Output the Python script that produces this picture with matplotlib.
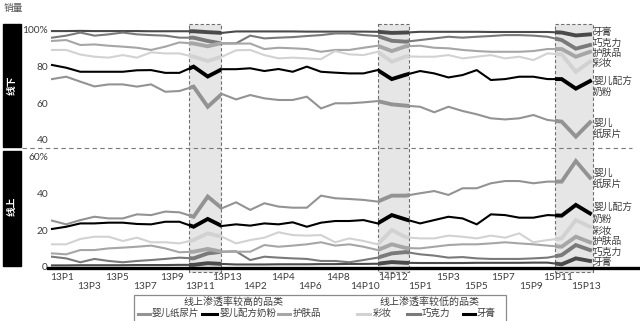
import matplotlib
matplotlib.use("Agg")
import matplotlib.pyplot as plt
from matplotlib.patches import Rectangle
from matplotlib import transforms
import numpy as np

plt.rcParams['font.family'] = ['Noto Sans CJK SC', 'DejaVu Sans']

# ---------------- data ----------------
periods = [f"{y}P{p}" for y in (13, 14, 15) for p in range(1, 14)]

names = ['婴儿纸尿片', '婴儿配方奶粉', '护肤品', '彩妆', '巧克力', '牙膏']

# 线下 (offline share, %)
diaper_off = [73.6, 74.9, 72.2, 69.6, 70.7, 70.7, 69.5, 70.7, 66.7, 67.1, 69.5, 58.5, 65.5,
              62.5, 64.9, 63.1, 62.2, 62.2, 64.0, 57.6, 60.4, 60.4, 60.9, 61.6, 59.8, 59.1,
              58.5, 55.5, 58.5, 56.2, 54.4, 52.2, 51.6, 52.2, 54.0, 51.3, 50.4, 42.2, 50.0]
formula_off = [81.3, 79.8, 77.6, 77.6, 77.6, 77.6, 78.4, 78.5, 77.0, 77.0, 80.4, 75.0, 79.0,
               79.0, 79.5, 78.0, 79.1, 77.6, 80.4, 77.6, 77.1, 76.7, 76.7, 78.5, 73.6, 76.0,
               78.0, 76.7, 74.5, 75.8, 78.5, 73.1, 73.6, 74.9, 74.9, 73.6, 73.6, 68.4, 72.5]
skincare_off = [94.4, 94.9, 92.2, 92.5, 91.8, 91.3, 90.7, 89.5, 91.3, 93.6, 93.0, 91.5, 93.3,
                93.0, 93.0, 90.0, 90.7, 90.4, 90.0, 88.5, 89.5, 89.5, 90.7, 91.8, 88.9, 91.5,
                91.8, 90.7, 90.4, 89.5, 88.9, 88.5, 88.5, 88.5, 88.9, 90.0, 90.0, 85.8, 88.5]
cosmetics_off = [89.5, 89.5, 87.0, 85.8, 85.3, 86.7, 85.3, 88.2, 87.6, 87.6, 85.8, 83.5, 85.8,
                 89.3, 89.5, 86.7, 84.9, 85.3, 84.9, 84.5, 88.9, 87.1, 86.7, 88.5, 83.1, 86.0,
                 85.8, 85.8, 86.7, 84.9, 85.8, 86.7, 84.9, 85.8, 84.0, 87.6, 87.1, 77.6, 83.1]
choc_off = [96.2, 97.3, 99.0, 97.3, 98.0, 99.0, 98.0, 97.6, 97.3, 96.2, 96.2, 94.4, 93.0,
            93.1, 97.3, 95.8, 96.2, 96.5, 97.1, 97.6, 98.5, 98.5, 97.6, 97.1, 94.5, 94.0,
            94.9, 95.8, 96.7, 96.2, 96.7, 97.1, 97.6, 97.6, 97.3, 96.7, 94.9, 90.2, 92.2]
tooth_off = [99.8, 99.8, 99.9, 99.8, 99.8, 99.8, 99.8, 99.7, 99.7, 99.7, 99.7, 99.2, 98.8,
             99.6, 99.6, 99.6, 99.6, 99.6, 99.5, 99.5, 99.5, 99.5, 99.5, 99.4, 98.8, 99.0,
             99.4, 99.4, 99.4, 99.4, 99.4, 99.3, 99.3, 99.3, 99.3, 99.3, 99.0, 97.4, 98.0]

# 线上 (online share, %)
diaper_on = [25.6, 23.6, 25.9, 27.7, 26.8, 26.8, 29.0, 28.6, 30.5, 30.1, 27.7, 38.6, 32.3,
             35.5, 31.4, 35.0, 33.2, 32.6, 32.6, 39.1, 37.7, 37.3, 36.8, 35.9, 39.1, 39.1,
             40.4, 41.6, 39.5, 43.1, 43.1, 45.8, 47.0, 47.0, 45.8, 46.7, 46.7, 57.8, 48.8]
formula_on = [21.1, 22.3, 24.1, 24.1, 24.5, 24.5, 23.8, 23.6, 25.0, 25.0, 22.3, 26.5, 22.7,
              23.6, 22.9, 24.1, 23.6, 24.7, 22.3, 24.5, 25.4, 25.4, 25.9, 24.1, 28.6, 26.2,
              24.1, 25.9, 27.7, 26.8, 23.6, 29.0, 28.6, 27.2, 27.2, 28.6, 28.3, 34.1, 29.5]
skincare_on = [7.9, 7.4, 9.7, 9.7, 10.6, 11.0, 11.5, 12.1, 10.6, 8.5, 8.8, 10.3, 8.8,
               8.8, 8.8, 12.4, 11.5, 12.1, 12.8, 13.9, 12.1, 12.8, 11.5, 9.7, 12.8, 10.8,
               10.6, 11.5, 12.4, 12.8, 12.8, 13.3, 13.9, 13.3, 12.8, 12.1, 11.5, 16.9, 13.9]
cosmetics_on = [12.8, 12.8, 15.7, 16.9, 16.9, 14.6, 16.4, 13.9, 13.9, 13.3, 15.1, 18.7, 16.9,
                13.3, 15.1, 16.4, 19.3, 17.8, 17.5, 17.8, 13.9, 16.0, 14.6, 12.8, 20.5, 16.6,
                16.0, 16.0, 17.5, 16.9, 16.0, 17.5, 16.4, 18.7, 13.9, 15.1, 16.0, 25.9, 22.3]
choc_on = [6.1, 5.2, 3.1, 4.9, 3.8, 3.1, 3.8, 4.3, 4.9, 5.6, 5.2, 7.9, 8.8,
           9.0, 4.3, 6.1, 5.6, 5.2, 4.9, 3.8, 3.8, 3.1, 4.3, 5.6, 7.9, 8.6,
           7.4, 6.7, 5.6, 5.9, 5.2, 4.9, 4.9, 4.9, 5.2, 5.6, 7.0, 12.4, 9.7]
tooth_on = [1.4, 1.4, 1.5, 1.5, 1.5, 1.5, 1.6, 1.6, 1.6, 1.7, 1.7, 2.6, 2.2,
            1.9, 1.9, 1.9, 2.0, 2.0, 2.0, 2.1, 2.1, 2.2, 2.2, 2.3, 3.2, 2.8,
            2.7, 2.7, 2.7, 2.7, 2.8, 2.8, 2.8, 2.8, 2.9, 2.9, 2.0, 5.2, 3.8]

# highlighted periods (shaded spans, in period-index units)
shades = [(9.7, 11.95), (23.0, 25.2), (35.5, 38.2)]

# ---------------- style ----------------
colors = {'婴儿纸尿片': '#939393', '婴儿配方奶粉': '#000000', '护肤品': '#a6a6a6',
          '彩妆': '#d2d2d2', '巧克力': '#7a7a7a', '牙膏': '#4a4a4a'}
txtc = '#3c3c3c'
W, H = 640, 321
fig = plt.figure(figsize=(6.4, 3.21), dpi=100)

ov = fig.add_axes([0, 0, 1, 1])
ov.set_xlim(0, W)
ov.set_ylim(H, 0)
ov.axis('off')

px0, pstep = 52.0, 14.158
xl = (-(px0 - 40) / pstep, 38 + (640 - 590) / pstep)

axT = fig.add_axes([40 / W, 1 - 150 / H, 600 / W, 126 / H])
axB = fig.add_axes([40 / W, 1 - 272 / H, 600 / W, 122 / H])
axT.set_ylim(100 - (150 - 30.7) / 1.833, 100 + (30.7 - 24) / 1.833)
axB.set_ylim((268 - 272) / 1.85, (268 - 150) / 1.85)
for a in (axT, axB):
    a.set_xlim(*xl)
    a.axis('off')
    a.patch.set_alpha(0)

x = np.arange(len(periods))

# shaded highlight boxes spanning both panels
blend = transforms.blended_transform_factory(axT.transData, ov.transData)
for s0, s1 in shades:
    ov.add_patch(Rectangle((s0, 24), s1 - s0, 248, transform=blend,
                           facecolor='#e6e6e6', edgecolor='#6e6e6e',
                           linestyle=(0, (3, 2)), linewidth=0.8))

top_series = [('牙膏', tooth_off), ('巧克力', choc_off), ('护肤品', skincare_off),
              ('彩妆', cosmetics_off), ('婴儿纸尿片', diaper_off), ('婴儿配方奶粉', formula_off)]
bot_series = [('牙膏', tooth_on), ('巧克力', choc_on), ('护肤品', skincare_on),
              ('彩妆', cosmetics_on), ('婴儿纸尿片', diaper_on), ('婴儿配方奶粉', formula_on)]

for ax, series in ((axT, top_series), (axB, bot_series)):
    for name, vals in series:
        ax.plot(x, vals, color=colors[name], lw=1.5, solid_joinstyle='miter')
        for s0, s1 in shades:
            ln, = ax.plot(x, vals, color=colors[name], lw=2.8, solid_joinstyle='miter')
            ln.set_clip_path(Rectangle((s0, -100), s1 - s0, 300, transform=ax.transData))

# baseline of lower panel
axB.axhline(0, xmin=(48 - 40) / 600, xmax=(638 - 40) / 600, color='black', lw=2.4)

# separator
ov.plot([22, 632], [148, 148], color='#7a7a7a', lw=0.8, linestyle=(0, (4, 3)))

# left black tabs
ov.add_patch(Rectangle((3, 24), 18, 123, color='black'))
ov.add_patch(Rectangle((3, 151), 18, 115, color='black'))
ov.text(12, 85, '线下', rotation=90, color='white', fontsize=7, fontweight='bold',
        ha='center', va='center')
ov.text(12, 206, '线上', rotation=90, color='white', fontsize=7, fontweight='bold',
        ha='center', va='center')
ov.text(4, 8, '销量', color='#555555', fontsize=7, ha='left', va='center')

# y tick labels
numfont = ['Lato', 'Noto Sans CJK SC']
bT = transforms.blended_transform_factory(ov.transData, axT.transData)
bB = transforms.blended_transform_factory(ov.transData, axB.transData)
for v, lab in zip([100, 80, 60, 40], ['100%', '80', '60', '40']):
    ov.text(48, v, lab, transform=bT, ha='right', va='center', fontsize=7.3,
            color=txtc, family=numfont)
for v, lab in zip([60, 40, 20, 0], ['60%', '40', '20', '0']):
    ov.text(48, v, lab, transform=bB, ha='right', va='center', fontsize=7.3,
            color=txtc, family=numfont)

# x tick labels (every other period, two staggered rows)
for i, lab in enumerate(periods):
    if i % 2:
        continue
    xp = 61.7 + 13.8 * i
    yp = 277.5 if i % 4 == 0 else 286.5
    ov.text(xp, yp, lab, ha='center', va='center', fontsize=7.3, color=txtc,
            family=numfont)

# right-hand series labels
lab_fs = 7
top_labels = [('牙膏', 32.3), ('巧克力', 42.7), ('护肤品', 52.7), ('彩妆', 62.7),
              ('婴儿配方\n奶粉', 86.5), ('婴儿\n纸尿片', 128.0)]
bot_labels = [('婴儿\n纸尿片', 178.3), ('婴儿配方\n奶粉', 212.8), ('彩妆', 230.7),
              ('护肤品', 240.7), ('巧克力', 251.7), ('牙膏', 262.3)]
for lab, yp in top_labels + bot_labels:
    ov.text(593, yp, lab, ha='left', va='center', fontsize=lab_fs, color=txtc,
            linespacing=1.15)

# legend
ov.add_patch(Rectangle((134, 295), 372, 30, facecolor='white', edgecolor='#8a8a8a', lw=0.9))
ov.text(234, 302, '线上渗透率较高的品类', ha='center', va='center', fontsize=7.2, color=txtc)
ov.text(430, 302, '线上渗透率较低的品类', ha='center', va='center', fontsize=7.2, color=txtc)
leg_pos = [(138, 150, 152), (202, 217, 219), (278, 290, 293),
           (357, 370, 373), (407, 420, 422), (463, 475, 477)]
leg_names = ['婴儿纸尿片', '婴儿配方奶粉', '护肤品', '彩妆', '巧克力', '牙膏']
for (l0, l1, tx), nm in zip(leg_pos, leg_names):
    lc = 'black' if nm == '牙膏' else colors[nm]
    ov.plot([l0, l1], [313.5, 313.5], color=lc, lw=2.2)
    ov.text(tx, 313.5, nm, ha='left', va='center', fontsize=6.8, color=txtc)

fig.savefig('out.png', dpi=100)
